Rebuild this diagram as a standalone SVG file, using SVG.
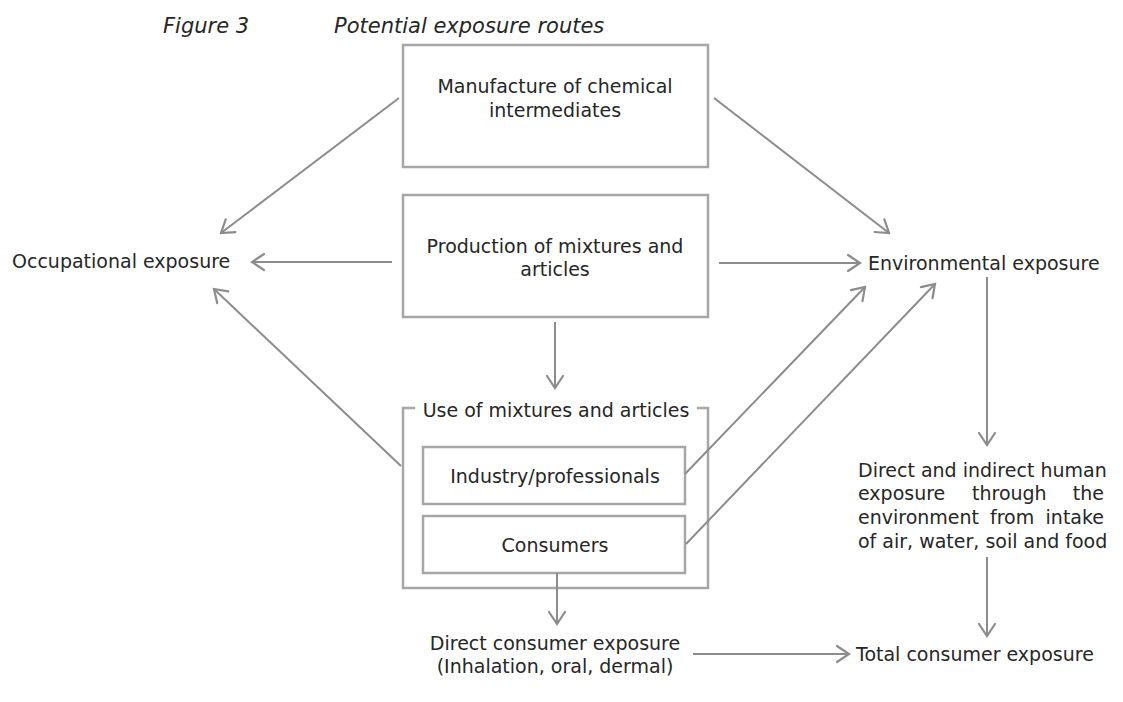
<svg xmlns="http://www.w3.org/2000/svg" width="1123" height="702" viewBox="0 0 1123 702">
<defs>
<style>
text{font-family:"DejaVu Sans","Verdana",sans-serif;font-size:19px;fill:#262626}
.it{font-style:italic;font-size:21px}
.box{fill:none;stroke:#a6a6a6;stroke-width:2.5}
.c{fill:none;stroke:#8c8c8c;stroke-width:2}
.m{text-anchor:middle}
</style>
<marker id="ah" markerUnits="userSpaceOnUse" markerWidth="30" markerHeight="30" refX="0" refY="0" viewBox="-15 -15 30 30" orient="auto" overflow="visible">
<path d="M-12,-8 L0,0 L-12,8" fill="none" stroke="#8c8c8c" stroke-width="2.2" stroke-linecap="round"/>
</marker>
</defs>
<rect width="1123" height="702" fill="#fff"/>
<g id="title">
<text class="it" x="163" y="33">Figure 3</text>
<text class="it" x="334" y="33">Potential exposure routes</text>
</g>
<g id="manufacture">
<rect class="box" x="403" y="45" width="305" height="122"/>
<text class="m" x="555" y="93">Manufacture of chemical</text>
<text class="m" x="555" y="117">intermediates</text>
</g>
<g id="production">
<rect class="box" x="403" y="195" width="305" height="122"/>
<text class="m" x="555" y="253">Production of mixtures and</text>
<text class="m" x="555" y="276">articles</text>
</g>
<g id="use">
<path class="box" d="M415,408 H403 V588 H708 V408 H697"/>
<text class="m" x="556" y="417">Use of mixtures and articles</text>
</g>
<g id="industry">
<rect class="box" x="423" y="447" width="262" height="57"/>
<text class="m" x="555" y="483">Industry/professionals</text>
</g>
<g id="consumers">
<rect class="box" x="423" y="516" width="262" height="57"/>
<text class="m" x="555" y="552">Consumers</text>
</g>
<g id="occupational">
<text x="12" y="268">Occupational exposure</text>
</g>
<g id="environmental">
<text x="868" y="270">Environmental exposure</text>
</g>
<g id="indirect">
<text x="858" y="477">Direct and indirect human</text>
<text y="500"><tspan x="858">exposure</tspan><tspan x="972">through</tspan><tspan x="1104" text-anchor="end">the</tspan></text>
<text y="524"><tspan x="858">environment</tspan><tspan x="990">from</tspan><tspan x="1104" text-anchor="end">intake</tspan></text>
<text x="858" y="548">of air, water, soil and food</text>
</g>
<g id="direct">
<text class="m" x="555" y="650">Direct consumer exposure</text>
<text class="m" x="555" y="673">(Inhalation, oral, dermal)</text>
</g>
<g id="total">
<text x="856" y="661">Total consumer exposure</text>
</g>
<g id="connectors">
<line class="c" x1="399" y1="98" x2="221" y2="233" marker-end="url(#ah)"/>
<line class="c" x1="392" y1="262" x2="252" y2="262" marker-end="url(#ah)"/>
<line class="c" x1="401" y1="466" x2="214" y2="289" marker-end="url(#ah)"/>
<line class="c" x1="714" y1="98" x2="889" y2="233" marker-end="url(#ah)"/>
<line class="c" x1="719" y1="263" x2="860" y2="263" marker-end="url(#ah)"/>
<line class="c" x1="685" y1="474" x2="865" y2="287" marker-end="url(#ah)"/>
<line class="c" x1="686" y1="544" x2="935" y2="284" marker-end="url(#ah)"/>
<line class="c" x1="555" y1="322" x2="555" y2="388" marker-end="url(#ah)"/>
<line class="c" x1="557" y1="573" x2="557" y2="624" marker-end="url(#ah)"/>
<line class="c" x1="987" y1="277" x2="987" y2="445" marker-end="url(#ah)"/>
<line class="c" x1="987" y1="557" x2="987" y2="636" marker-end="url(#ah)"/>
<line class="c" x1="693" y1="654" x2="849" y2="654" marker-end="url(#ah)"/>
</g>
</svg>
